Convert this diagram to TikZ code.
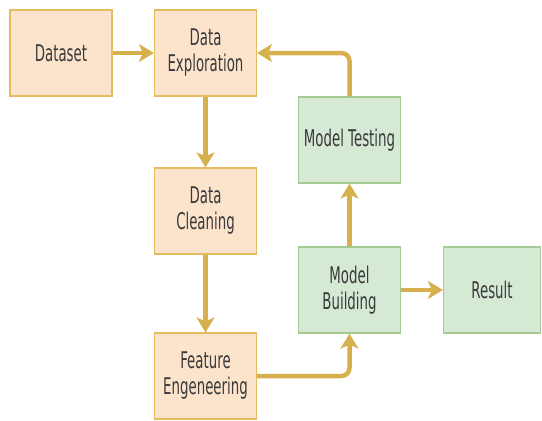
\documentclass[tikz,border=0pt]{standalone}
\usepackage{fontspec}
\setmainfont{DejaVu Sans}[FakeStretch=0.58]
\usepackage{xcolor}
\usetikzlibrary{arrows.meta,positioning}
\definecolor{peachfill}{HTML}{FCE3CC}
\definecolor{peachline}{HTML}{E6BC62}
\definecolor{sagefill}{HTML}{D6E9D4}
\definecolor{sageline}{HTML}{A3CA93}
\definecolor{goldarrow}{HTML}{D6B04C}
\definecolor{labeltext}{HTML}{3A3A3A}
\tikzset{
  prepbox/.style  = {rectangle, draw=peachline, fill=peachfill, line width=1.2pt,
                     align=center, text=labeltext, inner sep=2pt,
                     font=\fontsize{23}{26}\selectfont,
                     minimum width=102pt, minimum height=86pt},
  modelbox/.style = {prepbox, draw=sageline, fill=sagefill},
  flowarrow/.style = {-{Stealth[length=15pt, width=18pt, inset=4pt]},
                      draw=goldarrow, line width=4.5pt, rounded corners=8pt},
}

\begin{document}
\begin{tikzpicture}[x=1pt, y=-1pt]
  \useasboundingbox (0,0) rectangle (542,421);

  \node[prepbox]  (dataset) at (61,53)    {Dataset};
  \node[prepbox]  (explore) at (205.5,53) {Data\\Exploration};
  \node[prepbox]  (clean)   at (205.5,211) {Data\\Cleaning};
  \node[prepbox]  (feature) at (205.5,376) {Feature\\Engeneering};
  \node[modelbox] (testing) at (349.5,140) {Model Testing};
  \node[modelbox] (build)   at (349.5,290) {Model\\Building};
  \node[modelbox, minimum width=97pt] (result) at (492,290) {Result};

  \draw[flowarrow] (dataset) -- (explore);
  \draw[flowarrow] (explore) -- (clean);
  \draw[flowarrow] (clean) -- (feature);
  \draw[flowarrow] (feature.east) -| (build.south);
  \draw[flowarrow] (build) -- (testing);
  \draw[flowarrow] (testing.north) |- (explore.east);
  \draw[flowarrow] (build) -- (result);
\end{tikzpicture}
\end{document}
